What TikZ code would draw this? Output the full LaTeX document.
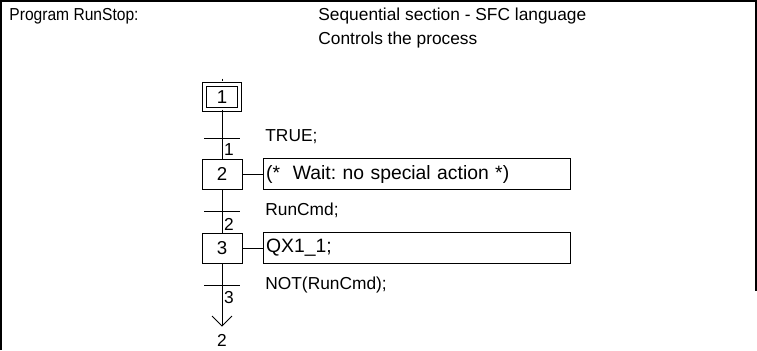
\documentclass[tikz,border=0pt]{standalone}
\usepackage{fontspec}
\setmainfont{Liberation Sans}
\frenchspacing
\begin{document}
\begin{tikzpicture}[x=0.75pt,y=-0.75pt,
  font=\fontsize{13}{15}\selectfont,
  every path/.style={line width=0.6pt},
  stepbox/.style={draw, line width=0.6pt, minimum width=30pt, minimum height=22.5pt, inner sep=0pt, font=\fontsize{14}{16}\selectfont},
  initstep/.style={draw, line width=0.6pt, double, double distance=2.25pt, minimum width=26.5pt, minimum height=18.5pt, inner sep=0pt, font=\fontsize{14}{16}\selectfont},
  actbox/.style={draw, line width=0.6pt, anchor=west, minimum height=23.25pt, text width=226pt, inner sep=2pt, align=left, font=\fontsize{14.5}{16}\selectfont},
  lbl/.style={anchor=base west, inner sep=0pt},
  hdr/.style={anchor=base west, inner sep=0pt, font=\fontsize{13}{15}\selectfont},
  tnum/.style={inner sep=0pt},
  frame/.style={line width=1.5pt}]
\useasboundingbox (0,0) rectangle (757,350);
% frame
\coordinate (f1) at (1,350);
\coordinate (f2) at (1,1);
\coordinate (f3) at (756,1);
\coordinate (f4) at (756,291);
\draw[frame] (f1) -- (f2) -- (f3) -- (f4);
% header
\node[hdr] (h1) at (9,20) {\scalebox{0.9}[1]{Program RunStop:}};
\node[hdr] (h2) at (318,20) {Sequential section - SFC language};
\node[hdr] (h3) at (318,44) {Controls the process};
% steps
\node[initstep] (s1) at (222,97) {1};
\node[stepbox] (s2) at (222,174) {2};
\node[stepbox] (s3) at (222,248) {3};
% actions
\node[actbox] (a2) at (263,174) {(*\ \ Wait:\ no\ special\ action\ *)};
\node[actbox] (a3) at (263,248) {QX1\_1;};
\draw (s2.east) -- (a2.west);
\draw (s3.east) -- (a3.west);
% initial tick
\coordinate (k1) at (222,78.5);
\coordinate (k2) at (222,80.5);
\draw (k1) -- (k2);
% links
\draw (s1.south) -- (s2.north);
\draw (s2.south) -- (s3.north);
\coordinate (tip) at (222,326);
\coordinate (al) at (212,316);
\coordinate (ar) at (232,316);
\draw (s3.south) -- (tip);
\draw (al) -- (tip) -- (ar);
\node[tnum] (j2) at (222,340) {2};
% transitions
\coordinate (t1l) at (204,138); \coordinate (t1r) at (240,138);
\coordinate (t2l) at (204,211); \coordinate (t2r) at (240,211);
\coordinate (t3l) at (204,285); \coordinate (t3r) at (240,285);
\draw (t1l) -- (t1r);
\draw (t2l) -- (t2r);
\draw (t3l) -- (t3r);
\node[tnum] (n1) at (229,150) {1};
\node[tnum] (n2) at (229,224) {2};
\node[tnum] (n3) at (229,298) {3};
\node[lbl] (c1) at (265,141) {TRUE;};
\node[lbl] (c2) at (265,215) {RunCmd;};
\node[lbl] (c3) at (265,289) {NOT(RunCmd);};
\end{tikzpicture}
\end{document}
